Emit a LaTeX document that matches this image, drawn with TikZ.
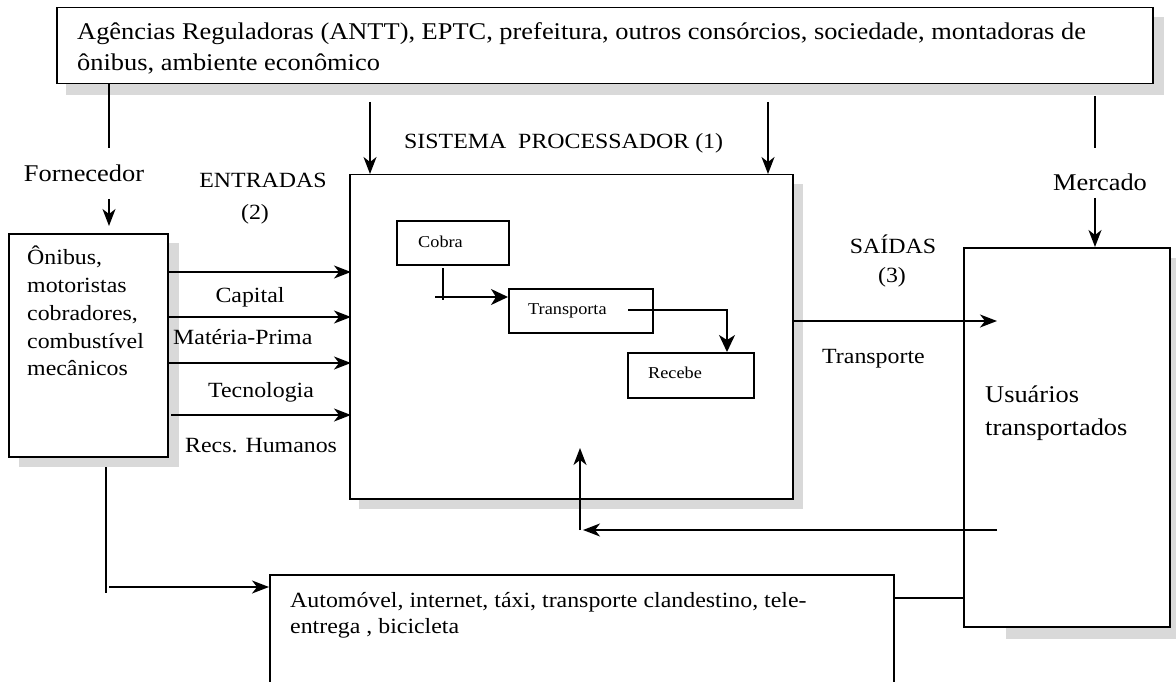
\documentclass[tikz,border=0pt]{standalone}
\usepackage{fontspec}
\setmainfont{Liberation Serif}[FakeStretch=1.1]
\usetikzlibrary{arrows.meta,calc}
\definecolor{shadowgray}{HTML}{D9D9D9}
\tikzset{
  frame/.style={draw, line width=1.5pt, fill=white, inner sep=0pt, anchor=north west},
  dropshadow/.style={fill=shadowgray},
  conn/.style={line width=1.5pt},
  arr/.style={conn, -{Stealth[length=17pt, width=13pt, inset=5pt]}},
  arrin/.style={conn, -{Stealth[length=17pt, width=16pt, inset=5pt]}},
  big/.style={inner sep=0pt, font=\fontsize{24}{30}\selectfont},
  mid/.style={inner sep=0pt, font=\fontsize{21.7}{27}\selectfont},
  small/.style={inner sep=0pt, font=\fontsize{16.6}{20}\selectfont},
}
\begin{document}
\begin{tikzpicture}[x=1pt,y=-1pt]
\useasboundingbox (0,0) rectangle (1176,682);

% drop shadows
\path[dropshadow] (66,17) rectangle (1164,95);
\path[dropshadow] (19,243) rectangle (179,467);
\path[dropshadow] (359,184) rectangle (803,509);
\path[dropshadow] (1006,258) rectangle (1182,639);

% boxes
\node[frame, minimum width=1096pt, minimum height=76pt] (env) at (56,7) {};
\node[frame, minimum width=159pt, minimum height=223pt] (supp) at (8,233) {};
\node[frame, minimum width=443pt, minimum height=324pt] (proc) at (349,174) {};
\node[frame, minimum width=206pt, minimum height=379pt] (users) at (963,247) {};
\node[frame, minimum width=624pt, minimum height=108.6pt] (alt) at (269,574) {};
\node[frame, minimum width=112pt, minimum height=44pt] (cobra) at (396,220) {};
\node[frame, minimum width=144pt, minimum height=44pt] (transp) at (508,288) {};
\node[frame, minimum width=126pt, minimum height=45pt] (recebe) at (627,352) {};

% box texts
\node[big, anchor=base west] (envA) at (77,40) {Agências Reguladoras (ANTT), EPTC, prefeitura, outros consórcios, sociedade, montadoras de};
\node[big, anchor=base west] (envB) at (77,71) {ônibus, ambiente econômico};

\node[mid, anchor=base west] (suppA) at (27,264) {Ônibus,};
\node[mid, anchor=base west] (suppB) at (27,292) {motoristas};
\node[mid, anchor=base west] (suppC) at (27,320) {cobradores,};
\node[mid, anchor=base west] (suppD) at (27,348) {combustível};
\node[mid, anchor=base west] (suppE) at (27,375) {mecânicos};

\node[small, anchor=base west] (cobraT) at (418,247) {Cobra};
\node[small, anchor=base west] (transpT) at (528,314) {Transporta};
\node[small, anchor=base west] (recebeT) at (648,378) {Recebe};

\node[big, anchor=base west] (usersA) at (985,402) {Usuários};
\node[big, anchor=base west] (usersB) at (985,435) {transportados};

\node[mid, anchor=base west] (altA) at (290,607) {Automóvel, internet, táxi, transporte clandestino, tele-};
\node[mid, anchor=base west] (altB) at (290,633) {entrega , bicicleta};

% free labels
\node[big, anchor=base] (forn) at (84,182) {Fornecedor};
\node[big, anchor=base] (merc) at (1100,190) {Mercado};
\node[mid, anchor=base west] (sist) at (404,149) {SISTEMA\ \ PROCESSADOR (1)};
\node[mid, anchor=base] (entr) at (263,188) {ENTRADAS};
\node[mid, anchor=base] (entrN) at (255,219) {(2)};
\node[mid, anchor=base] (said) at (893,253) {SAÍDAS};
\node[mid, anchor=base] (saidN) at (892,282) {(3)};
\node[mid, anchor=base west] (transpL) at (822,363) {Transporte};
\node[mid, anchor=base] (capL) at (250,302) {Capital};
\node[mid, anchor=base west] (matL) at (173,344) {Matéria-Prima};
\node[mid, anchor=base west] (tecL) at (208,397) {Tecnologia};
\node[mid, anchor=base west] (recL) at (185,452) {Recs. Humanos};

% environment links
\draw[conn] (env.south -| 109,96) -- (109,148);
\draw[arr] (109,199) -- (109,226);
\draw[arr] (370,102) -- (proc.north -| 370,0);
\draw[arr] (768,102) -- (proc.north -| 768,0);
\draw[conn] (1095,96) -- (1095,148);
\draw[arr] (1095,198) -- (users.north -| 1095,0);

% inputs
\foreach \y in {272,317,363}
  \draw[arr] (supp.east |- 0,\y) -- ($(proc.west |- 0,\y)+(2,0)$);
\draw[arr] (171,415) -- ($(proc.west |- 0,415)+(2,0)$);

% internal flow
\draw[conn] (443,268) -- (443,300);
\draw[arrin] (435,297) -- (transp.west |- 0,297);
\draw[arrin] (628,310) -- (727,310) -- (recebe.north -| 727,0);

% outputs and feedback
\draw[arr] (proc.east |- 0,321) -- (997,321);
\draw[arr] (997,530) -- (583,530);
\draw[arr] (580,530) -- (580,448);
\draw[conn] (alt.east |- 0,598) -- (users.west |- 0,598);

% substitutes
\draw[conn] (106,467) -- (106,593);
\draw[arr] (109,587) -- (alt.west |- 0,587);
\end{tikzpicture}
\end{document}
